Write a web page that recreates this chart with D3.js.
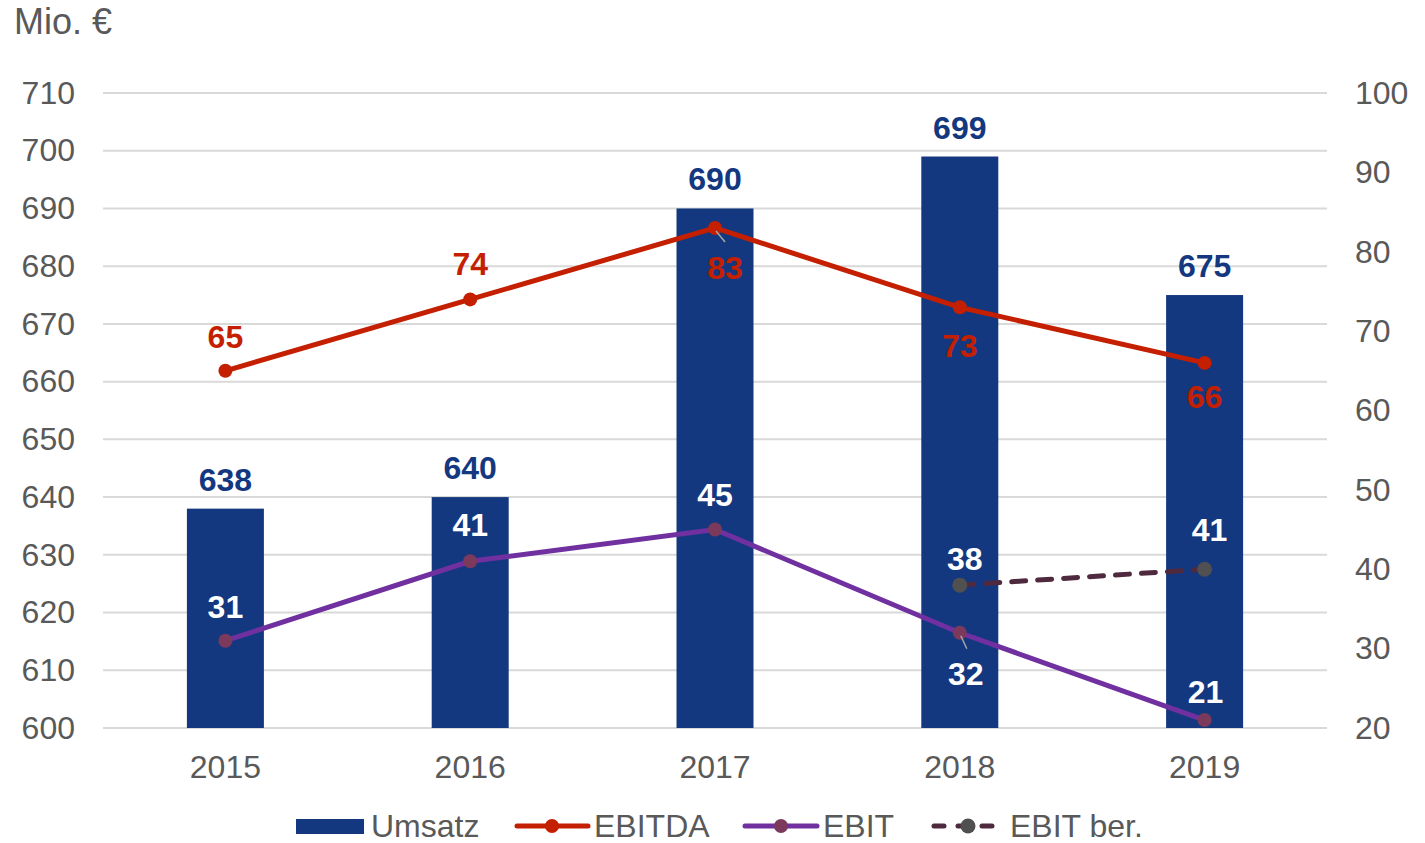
<!DOCTYPE html>
<html><head><meta charset="utf-8">
<script src="https://cdn.jsdelivr.net/npm/d3@7/dist/d3.min.js"></script>
<style>body{margin:0;background:#fff}svg{display:block}text{font-family:Arial,"Liberation Sans",sans-serif}</style>
</head><body><svg id="c" width="1425" height="843"></svg>
<script>
const years = ["2015","2016","2017","2018","2019"];
const umsatz = [638, 640, 690, 699, 675];
const ebitda = [65, 74, 83, 73, 66];
const ebit = [31, 41, 45, 32, 21];
const ebitBer = [null, null, null, 38, 40];
const ebitBerLabels = [null, null, null, "38", "41"];
const leftTicks = [600,610,620,630,640,650,660,670,680,690,700,710];
const rightTicks = [20,30,40,50,60,70,80,90,100];

const svg = d3.select("#c");
const L = 103, R = 1327, T = 93, B = 728;
const x = d3.scaleBand().domain(years).range([L, R]).padding(0);
const yL = d3.scaleLinear().domain([600, 710]).range([B, T]);
const yR = d3.scaleLinear().domain([20, 100]).range([B, T]);
const cx = d => x(d) + x.bandwidth()/2;
const barW = 77;
const gray = "#595959", navy = "#14387F", red = "#C41F00", purple = "#7030A0";
const font = 32;

// gridlines
svg.append("g").selectAll("line").data(leftTicks).join("line")
  .attr("x1", L).attr("x2", R).attr("y1", d => yL(d)).attr("y2", d => yL(d))
  .attr("stroke", "#d9d9d9").attr("stroke-width", 2);

// axes
const axL = svg.append("g").attr("transform", `translate(${L},0)`)
  .call(d3.axisLeft(yL).tickValues(leftTicks).tickSize(0).tickPadding(28));
const axR = svg.append("g").attr("transform", `translate(${R},0)`)
  .call(d3.axisRight(yR).tickValues(rightTicks).tickSize(0).tickPadding(28));
const axB = svg.append("g").attr("transform", `translate(0,${B})`)
  .call(d3.axisBottom(x).tickSize(0).tickPadding(27));
[axL, axR, axB].forEach(a => {
  a.select(".domain").remove();
  a.selectAll("text").attr("font-size", font).attr("fill", gray).attr("font-family", "Arial, 'Liberation Sans', sans-serif");
});

svg.append("text").attr("x", 14).attr("y", 34).attr("font-size", 36).attr("fill", gray).text("Mio. €");

// bars
svg.append("g").selectAll("rect").data(umsatz).join("rect")
  .attr("x", (d,i) => cx(years[i]) - barW/2).attr("width", barW)
  .attr("y", d => yL(d)).attr("height", d => B - yL(d)).attr("fill", navy);
svg.append("g").selectAll("text").data(umsatz).join("text")
  .attr("x", (d,i) => cx(years[i])).attr("y", d => yL(d) - 29)
  .attr("text-anchor", "middle").attr("dominant-baseline", "central")
  .attr("font-size", font).attr("font-weight", "bold").attr("fill", navy).text(d => d);

const line = d3.line().defined(d => d.v != null).x(d => cx(d.y)).y(d => yR(d.v));
const mk = arr => arr.map((v,i) => ({y: years[i], v}));

function series(vals, color, markColor, dash, r) {
  svg.append("path").datum(mk(vals)).attr("d", line).attr("fill", "none")
    .attr("stroke", color).attr("stroke-width", 5).attr("stroke-dasharray", dash || null)
    .attr("stroke-linecap", dash ? "round" : "butt");
  svg.append("g").selectAll("circle").data(mk(vals).filter(d => d.v != null)).join("circle")
    .attr("cx", d => cx(d.y)).attr("cy", d => yR(d.v)).attr("r", r).attr("fill", markColor);
}
series(ebitda, red, red, null, 7);
series(ebit, purple, "#7B3A5C", null, 7);
series(ebitBer, "#4F2A3E", "#505050", "14,12", 7.5);

// leader lines
const leaders = [[ "2017", ebitda[2], 10, 14 ], [ "2018", ebit[3], 7, 16 ]];
leaders.forEach(([yr, v, dx, dy]) => {
  svg.append("line").attr("x1", cx(yr)+1).attr("y1", yR(v)+3).attr("x2", cx(yr)+dx).attr("y2", yR(v)+dy)
    .attr("stroke", "#a6a6a6").attr("stroke-width", 1.5);
});

// point labels: [dx, dy] offsets
function labels(vals, texts, color, offs) {
  svg.append("g").selectAll("text").data(mk(vals).map((d,i) => ({...d, t: texts ? texts[i] : d.v, o: offs[i]})).filter(d => d.v != null)).join("text")
    .attr("x", d => cx(d.y) + d.o[0]).attr("y", d => yR(d.v) + d.o[1])
    .attr("text-anchor", "middle").attr("dominant-baseline", "central")
    .attr("font-size", font).attr("font-weight", "bold").attr("fill", color).text(d => d.t);
}
labels(ebitda, null, red, [[0,-34],[0,-35],[10,40],[0,39],[0,34]]);
labels(ebit, null, "#ffffff", [[0,-34],[0,-36],[0,-35],[6,41],[1,-28]]);
labels(ebitBer, ebitBerLabels, "#ffffff", [null,null,null,[5,-26],[5,-39]]);

// legend
const ly = 826;
const lg = svg.append("g");
lg.append("rect").attr("x", 296).attr("y", ly-7).attr("width", 68).attr("height", 15).attr("fill", navy);
lg.append("text").attr("x", 371).attr("y", ly).attr("dominant-baseline", "central").attr("font-size", font).attr("fill", gray).text("Umsatz");
lg.append("line").attr("x1", 517).attr("x2", 588).attr("y1", ly).attr("y2", ly).attr("stroke", red).attr("stroke-width", 5).attr("stroke-linecap","round");
lg.append("circle").attr("cx", 552).attr("cy", ly).attr("r", 7).attr("fill", red);
lg.append("text").attr("x", 594).attr("y", ly).attr("dominant-baseline", "central").attr("font-size", font).attr("fill", gray).text("EBITDA");
lg.append("line").attr("x1", 745).attr("x2", 817).attr("y1", ly).attr("y2", ly).attr("stroke", purple).attr("stroke-width", 5).attr("stroke-linecap","round");
lg.append("circle").attr("cx", 781).attr("cy", ly).attr("r", 7).attr("fill", "#7B3A5C");
lg.append("text").attr("x", 823).attr("y", ly).attr("dominant-baseline", "central").attr("font-size", font).attr("fill", gray).text("EBIT");
lg.append("line").attr("x1", 934).attr("x2", 1000).attr("y1", ly).attr("y2", ly).attr("stroke", "#4F2A3E").attr("stroke-width", 5).attr("stroke-dasharray", "10,14").attr("stroke-linecap","round");
lg.append("circle").attr("cx", 968).attr("cy", ly).attr("r", 7.5).attr("fill", "#505050");
lg.append("text").attr("x", 1010).attr("y", ly).attr("dominant-baseline", "central").attr("font-size", font).attr("fill", gray).text("EBIT ber.");
</script></body></html>
